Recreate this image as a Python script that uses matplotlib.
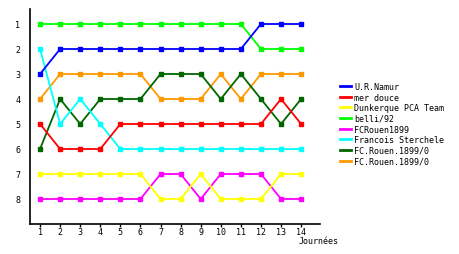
import matplotlib
matplotlib.use("Agg")
import matplotlib.pyplot as plt
from matplotlib.lines import Line2D

journees = list(range(1, 15))
teams = ['U.R.Namur', 'mer douce', 'Dunkerque PCA Team', 'belli/92', 'FCRouen1899',
         'Francois Sterchele', 'FC.Rouen.1899/0', 'FC.Rouen.1899/0']
colors = ['#0000ff', '#ff0000', '#ffff00', '#00ff00', '#ff00ff', '#00ffff', '#006600', '#ff9900']

namur = [3, 2, 2, 2, 2, 2, 2, 2, 2, 2, 2, 1, 1, 1]
mer_douce = [5, 6, 6, 6, 5, 5, 5, 5, 5, 5, 5, 5, 4, 5]
dunkerque = [7, 7, 7, 7, 7, 7, 8, 8, 7, 8, 8, 8, 7, 7]
belli = [1, 1, 1, 1, 1, 1, 1, 1, 1, 1, 1, 2, 2, 2]
fcrouen = [8, 8, 8, 8, 8, 8, 7, 7, 8, 7, 7, 7, 8, 8]
sterchele = [2, 5, 4, 5, 6, 6, 6, 6, 6, 6, 6, 6, 6, 6]
rouen_a = [6, 4, 5, 4, 4, 4, 3, 3, 3, 4, 3, 4, 5, 4]
rouen_b = [4, 3, 3, 3, 3, 3, 4, 4, 4, 3, 4, 3, 3, 3]
series = [namur, mer_douce, dunkerque, belli, fcrouen, sterchele, rouen_a, rouen_b]

plt.rcParams['font.family'] = ['DejaVu Sans Mono']
plt.rcParams['font.size'] = 6

fig = plt.figure(figsize=(4.6, 2.55), dpi=100)
# axes box in pixels: x 30..320, y 10..225
ax = fig.add_axes([30 / 460, 1 - 225 / 255, 290 / 460, 215 / 255])

# draw in reverse so the first team ends on top
for vals, col in reversed(list(zip(series, colors))):
    ax.plot(journees, vals, color=col, lw=1.3, marker='s', ms=2.6, mec=col, mfc=col)

ax.set_xlim(0.5, 14.94)
ax.set_ylim(9, 0.4)
ax.set_xticks(journees)
ax.set_yticks(range(1, 9))
ax.tick_params(axis='x', length=2, width=1, pad=0, direction='out')
ax.tick_params(axis='y', length=0, pad=7)
for s in ['top', 'right']:
    ax.spines[s].set_visible(False)
for s in ['left', 'bottom']:
    ax.spines[s].set_linewidth(1.2)
ax.set_facecolor('white')

fig.text(299 / 460, 1 - 242 / 255, 'Journées', ha='left', va='center', fontsize=6)

handles = [Line2D([], [], color=c, lw=2) for c in colors]
fig.legend(handles, teams, loc='upper left', bbox_to_anchor=(340 / 460, 1 - 83 / 255),
           frameon=False, handlelength=1.3, handletextpad=0.4, labelspacing=0.2,
           borderaxespad=0, borderpad=0, fontsize=6)

fig.savefig('out.png', dpi=100)
